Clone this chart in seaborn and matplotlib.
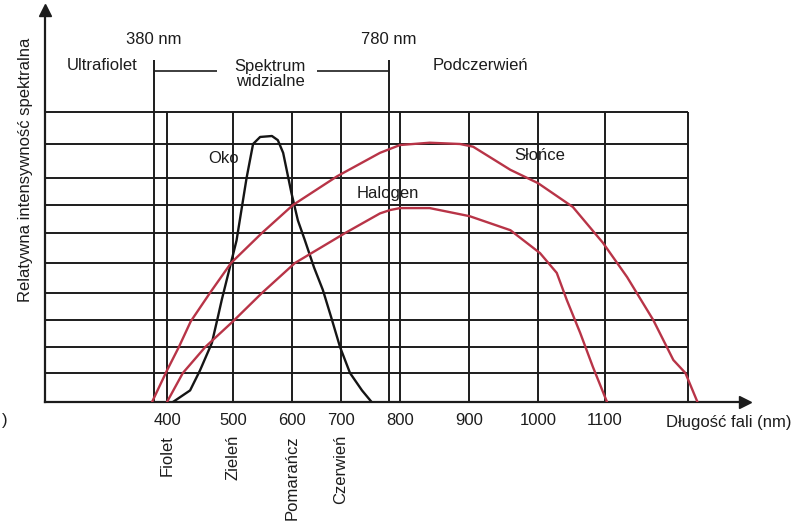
import numpy as np
import pandas as pd
import matplotlib
matplotlib.use("Agg")
import matplotlib.pyplot as plt
import seaborn as sns

# Spectral curves: wavelength (nm) and relative intensity (% of the top grid line)
oko_nm = [409, 435, 450, 468, 477, 483, 506, 523, 534, 546, 566, 576, 585, 599,
          612, 626, 645, 663, 680, 698, 715, 735, 751]
oko_val = [0, 4, 11, 21.5, 31, 37.5, 57.5, 80, 90, 92.2, 92.5, 91.2, 87.4, 74.5,
           64.5, 57.7, 48.5, 41, 31, 20, 10, 4, 0]

slonce_nm = [377, 400, 418, 436, 465, 497, 549, 602, 692, 765, 800, 843, 887, 906,
             960, 1000, 1052, 1097, 1133, 1172, 1202, 1220, 1238]
slonce_val = [0, 11, 20, 29.5, 40, 50, 60, 70, 80.5, 87.4, 89.7, 90.4, 90, 89.2,
              82.4, 78.1, 69.3, 56.7, 45.3, 30, 15, 10, 0]

halogen_nm = [400, 424, 458, 500, 549, 606, 707, 765, 782, 800, 843, 901, 960,
              1003, 1028, 1043, 1063, 1082, 1103]
halogen_val = [0, 10, 20, 29.5, 40, 50, 60, 67, 68.2, 68.9, 68.9, 66, 61,
               53.3, 46.7, 37.4, 25.2, 12.3, 0]

# Axis ticks, grid and spectral band borders
tick_nm = [400, 500, 600, 700, 800, 900, 1000, 1100]
tick_labels = ["400", "500", "600", "700", "800", "900", "1000", "1100"]
colour_names = ["Fiolet", "Zieleń", "Pomarańcz", "Czerwień"]
colour_nm = [400, 500, 600, 700]
visible_nm = [380, 780]
grid_nm = [380, 400, 500, 600, 700, 780, 800, 900, 1000, 1100, 1224]
grid_levels = [10, 20, 30, 40, 50, 60, 70, 80, 90, 100]

# The printed diagram uses a hand-drawn, non-uniform scale on both axes;
# these calibration tables reproduce its spacing (value -> drawing units).
x_cal_nm = [380, 400, 500, 600, 700, 780, 800, 900, 1000, 1100]
x_cal_pos = [154, 167, 233, 292, 341, 389, 400, 469, 538, 605]
y_cal_val = [0, 10, 20, 30, 40, 50, 60, 70, 80, 90, 100]
y_cal_pos = [0, 29, 55, 82, 109, 139, 169, 197, 224, 258, 290]


def piecewise(src, dst):
    src = np.asarray(src, float)
    dst = np.asarray(dst, float)
    lo = (dst[1] - dst[0]) / (src[1] - src[0])
    hi = (dst[-1] - dst[-2]) / (src[-1] - src[-2])

    def f(v):
        v = np.asarray(v, float)
        out = np.interp(v, src, dst)
        out = np.where(v < src[0], dst[0] + (v - src[0]) * lo, out)
        out = np.where(v > src[-1], dst[-1] + (v - src[-1]) * hi, out)
        return out
    return f


x_fwd, x_inv = piecewise(x_cal_nm, x_cal_pos), piecewise(x_cal_pos, x_cal_nm)
y_fwd, y_inv = piecewise(y_cal_val, y_cal_pos), piecewise(y_cal_pos, y_cal_val)

df = pd.concat([
    pd.DataFrame({"nm": oko_nm, "val": oko_val, "źródło": "Oko"}),
    pd.DataFrame({"nm": slonce_nm, "val": slonce_val, "źródło": "Słońce"}),
    pd.DataFrame({"nm": halogen_nm, "val": halogen_val, "źródło": "Halogen"}),
], ignore_index=True)

sns.set_style("white")
plt.rcParams["font.family"] = ["Liberation Sans", "DejaVu Sans"]
plt.rcParams["font.size"] = 12

W, H = 808, 525
fig = plt.figure(figsize=(W / 100, H / 100), dpi=100)
ax_left, ax_right, ax_bottom, ax_top = 45, 745, 402, 10
ax = fig.add_axes([ax_left / W, (H - ax_bottom) / H,
                   (ax_right - ax_left) / W, (ax_bottom - ax_top) / H])

ax.set_xscale("function", functions=(x_fwd, x_inv))
ax.set_yscale("function", functions=(y_fwd, y_inv))
x_lo, x_hi = float(x_inv(ax_left)), float(x_inv(ax_right))
y_hi = float(y_inv(ax_bottom - ax_top))
ax.set_xlim(x_lo, x_hi)
ax.set_ylim(0, y_hi)

ink = "#1c1c1c"
red = "#b83447"

# Grid
ax.hlines(grid_levels, x_lo, grid_nm[-1], color=ink, lw=1.4, zorder=1)
ax.vlines(grid_nm, 0, 100, color=ink, lw=1.4, zorder=1)

# Borders of the visible spectrum with their bracket
band_top = float(y_inv(342))
bracket_y = float(y_inv(331))
ax.vlines(visible_nm, 100, band_top, color=ink, lw=1.4)
ax.hlines(bracket_y, visible_nm[0], 475, color=ink, lw=1.2)
ax.hlines(bracket_y, 650, visible_nm[1], color=ink, lw=1.2)

# Curves
sns.lineplot(data=df, x="nm", y="val", hue="źródło",
             palette={"Oko": "#151515", "Słońce": red, "Halogen": red},
             sort=False, estimator=None, lw=1.7, legend=False, ax=ax, zorder=3)

# Axes with arrow heads
for s in ["top", "right"]:
    ax.spines[s].set_visible(False)
for s in ["left", "bottom"]:
    ax.spines[s].set_color(ink)
    ax.spines[s].set_linewidth(1.6)
ax.plot(0, 1, marker="^", ms=9, color=ink, transform=ax.transAxes, clip_on=False)
ax.plot(1, 0, marker=">", ms=9, color=ink, transform=ax.transAxes, clip_on=False)

ax.set_yticks([])
ax.set_xticks(tick_nm)
ax.set_xticklabels(tick_labels)
ax.xaxis.set_minor_locator(matplotlib.ticker.NullLocator())
ax.yaxis.set_minor_locator(matplotlib.ticker.NullLocator())
ax.tick_params(axis="x", length=0, pad=8, labelsize=12, colors=ink)
ax.set_xlabel("")
ax.set_ylabel("")

for name, nm in zip(colour_names, colour_nm):
    ax.annotate(name, xy=(nm, 0), xytext=(0, -33), textcoords="offset pixels",
                rotation=90, ha="center", va="top", fontsize=12, color=ink)

ax.annotate("Długość fali (nm)", xy=(1284, 0), xytext=(0, -20),
            textcoords="offset pixels", ha="center", va="center",
            fontsize=12, color=ink, annotation_clip=False)

ax.text((26 - ax_left) / (ax_right - ax_left), (ax_bottom - 170) / (ax_bottom - ax_top),
        "Relatywna intensywność spektralna", rotation=90, ha="center", va="center",
        transform=ax.transAxes, fontsize=12, color=ink)

# Region labels above the grid
lab_y = float(y_inv(ax_bottom - 39))
reg_y = float(y_inv(ax_bottom - 65))
ax.text(380, lab_y, "380 nm", ha="center", va="center", fontsize=12, color=ink)
ax.text(780, lab_y, "780 nm", ha="center", va="center", fontsize=12, color=ink)
ax.text(300, reg_y, "Ultrafiolet", ha="center", va="center", fontsize=12, color=ink)
ax.text(563, float(y_inv(ax_bottom - 74)), "Spektrum\nwidzialne", ha="center",
        va="center", linespacing=1.05, fontsize=12, color=ink)
ax.text(917, reg_y, "Podczerwień", ha="center", va="center", fontsize=12, color=ink)

# Curve names
ax.text(486, 85.6, "Oko", ha="center", va="center", fontsize=12, color=ink, zorder=4)
ax.text(778, 74.1, "Halogen", ha="center", va="center", fontsize=12, color=ink, zorder=4)
ax.text(1003, 86.5, "Słońce", ha="center", va="center", fontsize=12, color=ink, zorder=4)

fig.text(5 / W, 1 - 420 / H, ")", ha="center", va="center", fontsize=12, color=ink)

fig.savefig("out.png", dpi=100, facecolor="white")
